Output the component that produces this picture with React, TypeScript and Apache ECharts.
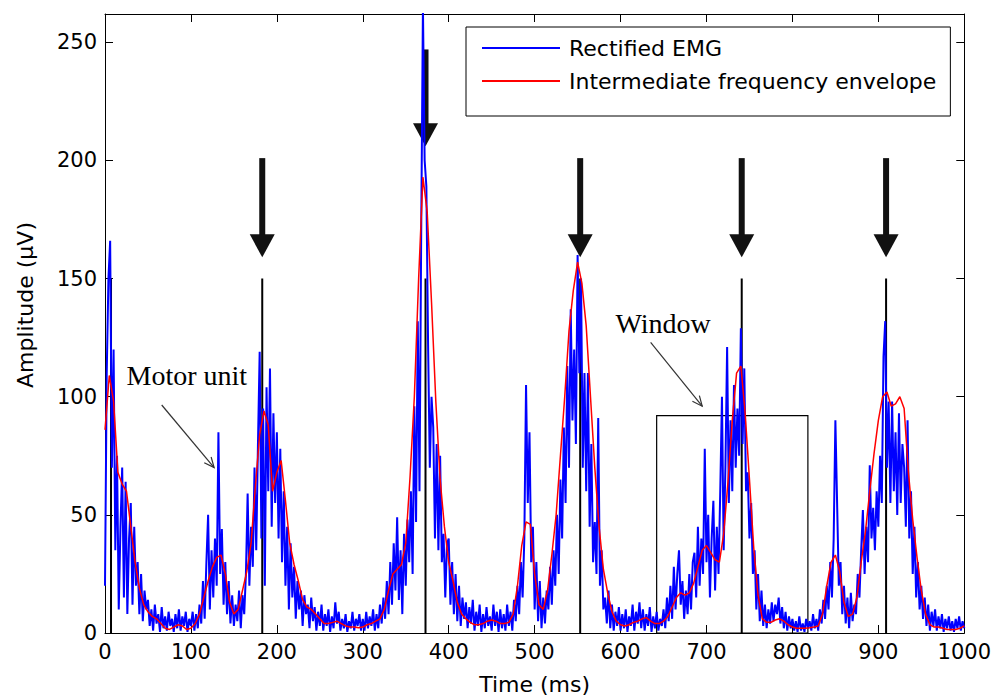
import * as echarts from "echarts";
import React, { useEffect, useRef } from "react";

// rectified EMG, one sample every 2 ms from 0 to 1000 ms (µV)
const emgStep = 2;
const emgValues = [
    20, 110, 150, 166, 70, 120, 35, 75, 10, 45, 70, 15, 64, 8, 40, 55, 12, 45, 20, 30, 8, 25, 5, 18, 10,
    14, 3, 10, 1, 12, 4, 8, 0.5, 11, 2, 7, 1, 9, 3, 6, 0.5, 8, 2, 10, 1, 7, 3, 9, 0.5, 6,
    3, 9, 1, 8, 2, 12, 4, 22, 6, 30, 50, 10, 35, 15, 40, 20, 85, 25, 44, 12, 30, 8, 22, 4, 16,
    3, 12, 5, 18, 2, 16, 8, 25, 59, 20, 45, 28, 70, 35, 80, 119, 40, 95, 20, 104, 60, 112, 45, 93, 55,
    85, 40, 78, 30, 60, 20, 45, 10, 38, 15, 28, 6, 22, 10, 18, 3, 16, 8, 12, 2, 15, 5, 11, 1, 9,
    3, 12, 1, 8, 3, 10, 0.5, 7, 2, 13, 4, 9, 1, 6, 2, 8, 0.5, 5, 2, 9, 1, 6, 3, 8, 1,
    6, 1, 9, 2, 7, 3, 10, 1, 8, 2, 12, 4, 15, 6, 22, 8, 30, 12, 38, 18, 49, 14, 35, 8, 42,
    20, 48, 30, 60, 25, 96, 47, 132, 60, 170, 265, 200, 189, 122, 70, 100, 87, 40, 80, 35, 75, 30, 42, 15, 38,
    40, 12, 30, 8, 25, 5, 20, 3, 15, 6, 13, 2, 11, 4, 14, 1, 9, 3, 12, 0.5, 8, 2, 11, 3, 7,
    1, 12, 3, 9, 0.5, 10, 2, 8, 1, 12, 3, 9, 1, 14, 5, 20, 8, 30, 15, 40, 105, 55, 85, 30, 45,
    10, 30, 5, 22, 2, 15, 4, 18, 10, 28, 12, 35, 20, 50, 25, 65, 40, 87, 55, 113, 70, 137, 90, 120, 80,
    160, 110, 150, 70, 110, 60, 110, 45, 80, 30, 47, 25, 91, 20, 35, 10, 15, 4, 18, 2, 12, 1, 9, 3, 11,
    1, 8, 2, 10, 0.5, 7, 3, 12, 1, 9, 4, 13, 2, 10, 1, 8, 3, 11, 0.5, 7, 2, 9, 1, 6, 3,
    10, 2, 15, 5, 20, 6, 28, 10, 25, 35, 12, 22, 6, 18, 8, 25, 10, 30, 34, 15, 45, 20, 40, 25, 78,
    30, 50, 15, 40, 56, 18, 45, 25, 60, 100, 35, 70, 121, 55, 90, 60, 105, 70, 95, 75, 129, 80, 112, 60, 68,
    40, 55, 25, 35, 10, 25, 5, 18, 3, 12, 2, 10, 4, 13, 5, 12, 8, 15, 4, 11, 2, 9, 1, 7, 2,
    6, 1, 5, 0.5, 7, 1, 4, 0.5, 6, 2, 5, 1, 8, 2, 6, 1, 10, 4, 14, 6, 20, 10, 30, 15, 40,
    90, 55, 20, 30, 8, 20, 4, 15, 2, 17, 5, 12, 8, 25, 15, 35, 52, 25, 45, 30, 71, 40, 53, 35, 60,
    45, 75, 55, 117, 132, 70, 98, 55, 98, 60, 85, 50, 93, 55, 80, 70, 45, 90, 40, 60, 25, 45, 15, 30, 10,
    20, 6, 15, 3, 12, 1, 9, 3, 10, 1, 7, 2, 8, 0.5, 6, 2, 7, 1, 5, 0.5, 6, 2, 7, 1, 5,
    2,
];

// intermediate frequency envelope, one sample every 5 ms
const envStep = 5;
const envelopeValues = [
    86, 109, 98, 68, 63, 60, 45, 30, 19, 12,
    9, 7, 6, 4, 2, 1.5, 2.5, 3.5, 3, 1.5,
    2, 4, 8, 15, 22, 28, 32, 33, 25, 13,
    8, 10, 18, 26, 38, 62, 84, 94, 88, 60,
    68, 73, 56, 38, 29, 22, 14, 11, 10, 8,
    6, 4, 4, 4.5, 5, 4, 3, 2.5, 2.5, 2.2,
    2.5, 3.5, 4, 5, 6, 10, 18, 25, 27, 29,
    38, 66, 100, 150, 193, 178, 140, 98, 65, 45,
    30, 22, 13, 8, 6, 4.5, 3.5, 3.5, 4, 5,
    5.5, 5, 4, 4, 4.5, 8, 20, 37, 47, 46,
    25, 12, 10, 18, 33, 50, 75, 100, 128, 145,
    157, 148, 130, 100, 70, 45, 27, 17, 9, 5,
    3.5, 3, 3.5, 4.5, 5, 6, 6.5, 5, 4, 4,
    5, 7, 11, 15, 17, 16, 17, 21, 28, 35,
    37, 34, 31, 30, 42, 64, 90, 110, 113, 93,
    65, 36, 16, 6, 4.5, 4.5, 5.5, 6, 5, 3.5,
    2.5, 2, 2, 2, 2.2, 2.5, 3, 8, 20, 30,
    33, 26, 13, 7, 8, 15, 30, 43, 60, 76,
    90, 100, 102, 96, 97, 100, 95, 68, 48, 32,
    18, 8, 3.5, 2.5, 2.5, 2, 1.5, 1.5, 1.5, 2,
    3,
];

const seriesNames = ["Rectified EMG", "Intermediate frequency envelope"];

// vertical markers (ms, height in µV)
const markerTimes = [7, 183, 373, 553, 741, 909];
const markerHeights = [150, 150, 150, 150, 150, 150];

// thick arrows: time, shaft top, tip (µV)
const arrowTimes = [183, 373, 553, 741, 909];
const arrowTops = [201, 247, 201, 201, 201];
const arrowTips = [159, 206, 159, 159, 159];

// analysis window: start, end (ms), height (µV)
const windowStart = 642;
const windowEnd = 818;
const windowHeight = 92;

// text notes with pointer arrows (data coords)
const noteLabels = ["Motor unit", "Window"];
const noteTextAt = [[25, 109], [594, 131]];
const notePointerFrom = [[66, 96.5], [635, 123]];
const notePointerTo = [[127, 70], [695, 96]];

const sans = "DejaVu Sans";

const App: React.FC = () => {
    const chartRef = useRef<HTMLDivElement>(null);

    useEffect(() => {
        if (!chartRef.current) return;
        document.body.style.margin = "0";
        const chart = echarts.init(chartRef.current, undefined, { renderer: "svg" });

        const emgData = emgValues.map((v, i) => [i * emgStep, v]);
        const envData = envelopeValues.map((v, i) => [i * envStep, v]);

        const xBase = {
            type: "value",
            min: 0,
            max: 1000,
            interval: 100,
            splitLine: { show: false },
            axisLine: { onZero: false, lineStyle: { color: "#000", width: 1 } },
            axisTick: { inside: true, length: 8, lineStyle: { color: "#000" } },
        };
        const yBase = {
            type: "value",
            min: 0,
            max: 262,
            interval: 50,
            splitLine: { show: false },
            axisLine: { onZero: false, lineStyle: { color: "#000", width: 1 } },
            axisTick: { inside: true, length: 8, lineStyle: { color: "#000" } },
        };

        chart.setOption({
            animation: false,
            backgroundColor: "#fff",
            grid: { left: 105, top: 14, width: 863, height: 619 },
            xAxis: [
                {
                    ...xBase,
                    position: "bottom",
                    name: "Time (ms)",
                    nameLocation: "middle",
                    nameGap: 40,
                    nameTextStyle: { fontFamily: sans, fontSize: 22, color: "#000" },
                    axisLabel: {
                        fontFamily: sans,
                        fontSize: 21,
                        color: "#000",
                        margin: 8,
                        formatter: (v: number) => String(v),
                    },
                },
                { ...xBase, position: "top", axisLabel: { show: false } },
            ],
            yAxis: [
                {
                    ...yBase,
                    position: "left",
                    axisLabel: {
                        fontFamily: sans,
                        fontSize: 21,
                        color: "#000",
                        margin: 8,
                        showMaxLabel: false,
                        formatter: (v: number) => String(v),
                    },
                },
                { ...yBase, position: "right", axisLabel: { show: false } },
            ],
            legend: {
                data: seriesNames.map((name) => ({ name, icon: "rect" })),
                orient: "vertical",
                left: 466,
                top: 27,
                padding: [10, 14, 24, 16],
                itemWidth: 78,
                itemHeight: 2,
                itemGap: 11,
                borderColor: "#000",
                borderWidth: 1,
                backgroundColor: "#fff",
                textStyle: { fontFamily: sans, fontSize: 22, color: "#000", padding: [0, 0, 0, 4] },
            },
            graphic: [
                {
                    type: "text",
                    x: 25,
                    y: 305,
                    rotation: Math.PI / 2,
                    style: {
                        text: "Amplitude (\u03bcV)",
                        fontFamily: sans,
                        fontSize: 22,
                        fill: "#000",
                        align: "center",
                        verticalAlign: "middle",
                    },
                },
            ],
            series: [
                {
                    name: seriesNames[0],
                    type: "line",
                    data: emgData,
                    symbol: "none",
                    color: "#0000ff",
                    lineStyle: { color: "#0000ff", width: 2 },
                },
                {
                    name: seriesNames[1],
                    type: "line",
                    data: envData,
                    symbol: "none",
                    color: "#ff0000",
                    lineStyle: { color: "#ff0000", width: 1.5 },
                },
                {
                    // vertical marker lines
                    type: "custom",
                    data: markerTimes.map((t, i) => [t, markerHeights[i]]),
                    renderItem: (_params: any, api: any) => {
                        const p0 = api.coord([api.value(0), 0]);
                        const p1 = api.coord([api.value(0), api.value(1)]);
                        return {
                            type: "line",
                            shape: { x1: p0[0], y1: p0[1], x2: p1[0], y2: p1[1] },
                            style: { stroke: "#000", lineWidth: 2 },
                        };
                    },
                },
                {
                    // thick down arrows
                    type: "custom",
                    data: arrowTimes.map((t, i) => [t, arrowTops[i], arrowTips[i]]),
                    renderItem: (_params: any, api: any) => {
                        const top = api.coord([api.value(0), api.value(1)]);
                        const tip = api.coord([api.value(0), api.value(2)]);
                        const headH = 23;
                        const headW = 12.5;
                        return {
                            type: "group",
                            children: [
                                {
                                    type: "rect",
                                    shape: { x: top[0] - 3, y: top[1], width: 6, height: tip[1] - headH - top[1] + 1 },
                                    style: { fill: "#111" },
                                },
                                {
                                    type: "polygon",
                                    shape: {
                                        points: [
                                            [tip[0] - headW, tip[1] - headH],
                                            [tip[0] + headW, tip[1] - headH],
                                            [tip[0], tip[1]],
                                        ],
                                    },
                                    style: { fill: "#111" },
                                },
                            ],
                        };
                    },
                },
                {
                    // analysis window
                    type: "custom",
                    data: [[windowStart, windowEnd, windowHeight]],
                    renderItem: (_params: any, api: any) => {
                        const a = api.coord([api.value(0), api.value(2)]);
                        const b = api.coord([api.value(1), 0]);
                        return {
                            type: "rect",
                            shape: { x: a[0], y: a[1], width: b[0] - a[0], height: b[1] - a[1] },
                            style: { fill: "none", stroke: "#000", lineWidth: 1.2 },
                        };
                    },
                },
                {
                    // text notes with pointers
                    type: "custom",
                    data: noteLabels.map((_, i) => [notePointerTo[i][0], notePointerTo[i][1]]),
                    renderItem: (params: any, api: any) => {
                        const i = params.dataIndex;
                        const tp = api.coord(noteTextAt[i]);
                        const from = api.coord(notePointerFrom[i]);
                        const to = api.coord(notePointerTo[i]);
                        const ang = Math.atan2(to[1] - from[1], to[0] - from[0]);
                        const len = 11;
                        const spread = 0.42;
                        const w1 = [to[0] - len * Math.cos(ang - spread), to[1] - len * Math.sin(ang - spread)];
                        const w2 = [to[0] - len * Math.cos(ang + spread), to[1] - len * Math.sin(ang + spread)];
                        const stroke = { stroke: "#333", lineWidth: 1.2 };
                        return {
                            type: "group",
                            children: [
                                {
                                    type: "text",
                                    x: tp[0],
                                    y: tp[1],
                                    style: {
                                        text: noteLabels[i],
                                        fontFamily: "Liberation Serif",
                                        fontSize: 28,
                                        fill: "#000",
                                        align: "left",
                                        verticalAlign: "middle",
                                    },
                                },
                                { type: "line", shape: { x1: from[0], y1: from[1], x2: to[0], y2: to[1] }, style: stroke },
                                { type: "polyline", shape: { points: [w1, to, w2] }, style: { ...stroke, fill: "none" } },
                            ],
                        };
                    },
                },
            ],
        });

        const handleResize = () => chart.resize();
        window.addEventListener("resize", handleResize);

        return () => {
            window.removeEventListener("resize", handleResize);
            chart.dispose();
        };
    }, []);

    return <div ref={chartRef} style={{ width: 994, height: 700 }} />;
};

export default App;
